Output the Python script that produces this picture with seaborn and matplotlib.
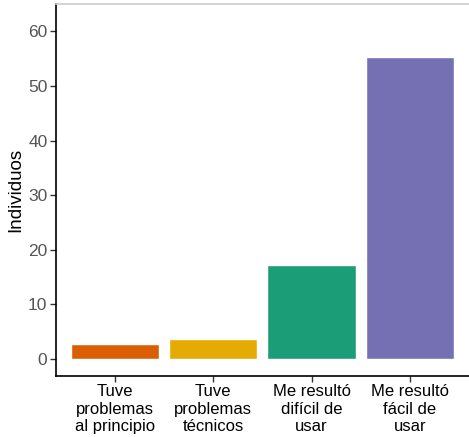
import matplotlib
matplotlib.use("Agg")
import matplotlib.pyplot as plt
import seaborn as sns
import pandas as pd

# ======================================================
# Data
# ======================================================

categorias = [
    "Tuve\nproblemas\nal principio",
    "Tuve\nproblemas\ntécnicos",
    "Me resultó\ndifícil de\nusar",
    "Me resultó\nfácil de\nusar",
]
individuos = [2.75, 3.65, 17.3, 55.3]
colores = ["#D95F02", "#E6AB02", "#1B9E77", "#7570B3"]

data = pd.DataFrame({"categoria": categorias, "individuos": individuos})

# ======================================================
# Plot
# ======================================================

sns.set_style("white")
plt.rcParams["font.family"] = ["Liberation Sans", "DejaVu Sans"]

fig = plt.figure(figsize=(4.69, 4.37), dpi=100)
ax = fig.add_axes([0.119, 0.1396, 0.881, 0.8514])

sns.barplot(
    data=data,
    x="categoria",
    y="individuos",
    hue="categoria",
    palette=colores,
    width=0.9,
    saturation=1,
    legend=False,
    ax=ax,
)

ax.set_xlim(-0.6, 3.6)
ax.set_ylim(-3.1, 65)
ax.set_yticks([0, 10, 20, 30, 40, 50, 60])
ax.set_xlabel("")
ax.set_ylabel("Individuos", fontsize=13.5, color="black", labelpad=3)

ax.tick_params(axis="y", labelsize=12.5, labelcolor="#555555", length=4,
               width=1, color="#333333", left=True, pad=2)
ax.tick_params(axis="x", labelsize=12, labelcolor="black", length=4,
               width=1, color="#333333", bottom=True, pad=2)

ax.spines["right"].set_visible(False)
ax.spines["top"].set_color("#cccccc")
ax.spines["top"].set_linewidth(1.2)
for side in ["left", "bottom"]:
    ax.spines[side].set_color("black")
    ax.spines[side].set_linewidth(1.2)

fig.savefig("out.png", dpi=100)
